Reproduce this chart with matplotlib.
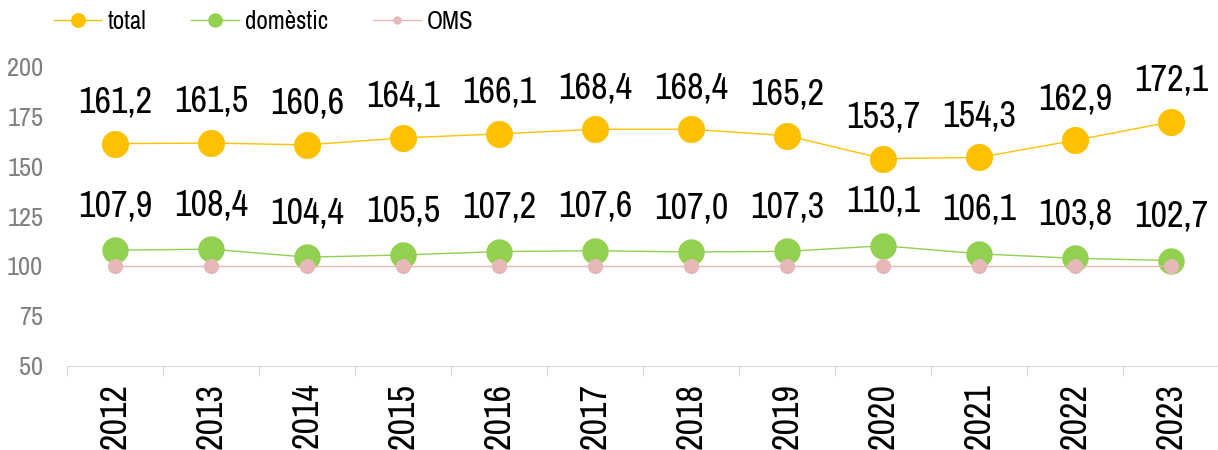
import matplotlib.pyplot as plt
import numpy as np

years = ['2012', '2013', '2014', '2015', '2016', '2017', '2018', '2019', '2020', '2021', '2022', '2023']
total = [161.2, 161.5, 160.6, 164.1, 166.1, 168.4, 168.4, 165.2, 153.7, 154.3, 162.9, 172.1]
domestic = [107.9, 108.4, 104.4, 105.5, 107.2, 107.6, 107.0, 107.3, 110.1, 106.1, 103.8, 102.7]
oms = [100] * 12

plt.rcParams['font.family'] = ['Archivo Narrow', 'DejaVu Sans']

fig = plt.figure(figsize=(12.18, 4.5), dpi=100)
ax = fig.add_axes([0.055, 0.187, 0.946, 0.666])
x = np.arange(len(years))

ax.plot(x, oms, color='#E6B9B8', lw=1, marker='o', ms=11, mec='none', label='OMS', zorder=3)
ax.plot(x, domestic, color='#92D050', lw=1, marker='o', ms=19, mec='none', label='domèstic', zorder=2)
ax.plot(x, total, color='#FFC000', lw=1, marker='o', ms=19.5, mec='none', label='total', zorder=2)

for xi, v in zip(x, total):
    ax.annotate(f'{v:.1f}'.replace('.', ','), (xi, v), xytext=(0, 30), textcoords='offset points',
                ha='center', va='center', fontsize=26)
for xi, v in zip(x, domestic):
    ax.annotate(f'{v:.1f}'.replace('.', ','), (xi, v), xytext=(0, 32), textcoords='offset points',
                ha='center', va='center', fontsize=26)

ax.set_xlim(-0.5, len(years) - 0.5)
ax.set_ylim(50, 200)
ax.set_yticks(range(50, 201, 25))
ax.tick_params(axis='y', length=0, labelsize=19, labelcolor='#7F7F7F', pad=17)
ax.set_xticks(x)
ax.set_xticklabels(years, rotation=90, fontsize=26)
ax.tick_params(axis='x', which='major', length=0, pad=12)
ax.set_xticks(np.arange(-0.5, len(years), 1), minor=True)
ax.tick_params(axis='x', which='minor', length=7, color='#D9D9D9', width=1)
for s in ['top', 'right', 'left']:
    ax.spines[s].set_visible(False)
ax.spines['bottom'].set_color('#D9D9D9')

h, l = ax.get_legend_handles_labels()
leg = fig.legend(h[::-1], l[::-1], loc='upper left', bbox_to_anchor=(0.036, 1.0), ncol=3, frameon=False,
                 fontsize=18, markerscale=0.55, handlelength=1.9, columnspacing=1.8, handletextpad=0.25,
                 borderaxespad=0)

fig.savefig('out.png', dpi=100)
